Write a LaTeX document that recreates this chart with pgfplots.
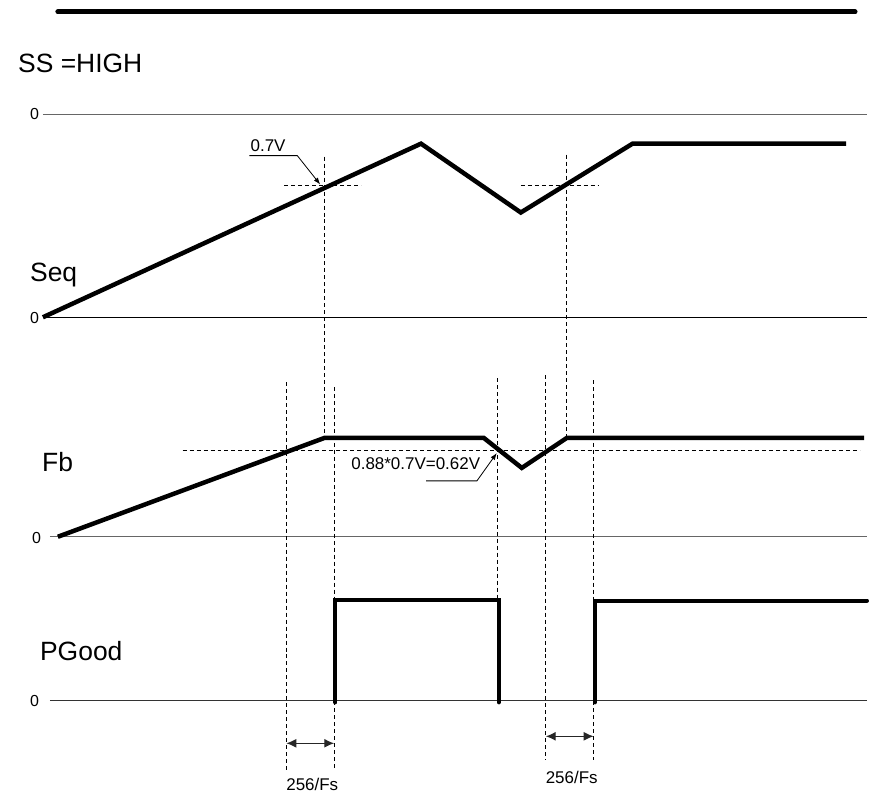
\documentclass[border=0pt]{standalone}
\usepackage{pgfplots}
\pgfplotsset{compat=1.18}
\usepackage{fontspec}
\setmainfont{Liberation Sans}
\usetikzlibrary{arrows.meta}
\tikzset{
  trace/.style={line width=4.5pt, black, line join=miter, line cap=butt},
  dsh/.style={line width=0.8pt, black, dash pattern=on 4pt off 3pt},
  base/.style={line width=1pt, black!60},
  big/.style={font=\fontsize{26.5}{30}\selectfont, anchor=base west, inner sep=0pt},
  small/.style={font=\fontsize{17}{20}\selectfont, inner sep=0pt},
  zero/.style={font=\fontsize{16}{18}\selectfont, anchor=base west, inner sep=0pt},
  dbl/.style={line width=1.2pt, black!85, {Latex[length=10pt,width=9pt]}-{Latex[length=10pt,width=9pt]}},
}
\begin{document}
\begin{tikzpicture}
\begin{axis}[scale only axis, width=869pt, height=797pt,
  xmin=0, xmax=869, ymin=0, ymax=797, y dir=reverse,
  hide axis, clip=false]
\addplot[draw=none] coordinates {(0,0) (869,797)};
% top bar
\addplot[line width=5pt, line cap=round] coordinates {(58,12) (857,12)};
\node[big] at (axis cs:18,73) {SS =HIGH};
% Seq panel
\addplot[base] coordinates {(43,115) (869,115)};
\node[zero] at (axis cs:30,120) {0};
\addplot[line width=1pt, black] coordinates {(43,318) (869,318)};
\node[zero] at (axis cs:30,324) {0};
\node[big] at (axis cs:30,282) {Seq};
\addplot[trace] coordinates {(43,318) (422,144) (522,213) (634,144) (848,144)};
% 0.7V markers
\addplot[dsh] coordinates {(285,186) (362,186)};
\addplot[dsh] coordinates {(325,157) (325,438)};
\addplot[dsh] coordinates {(522,186) (600,186)};
\addplot[dsh] coordinates {(568,155) (568,438)};
\addplot[line width=0.8pt, -{Latex[length=7pt,width=5pt]}] coordinates {(250,156) (298,156) (321,185)};
\node[small, anchor=base west] at (axis cs:251,152) {0.7V};
% Fb panel
\addplot[base] coordinates {(50,538) (869,538)};
\node[zero] at (axis cs:32,545) {0};
\node[big] at (axis cs:42,473) {Fb};
\addplot[dsh] coordinates {(183,451) (862,451)};
\addplot[trace] coordinates {(58,538) (325,439) (485,439) (523,469) (568,439) (866,439)};
\addplot[line width=0.8pt, -{Latex[length=7pt,width=5pt]}] coordinates {(427,482) (478,482) (498,454)};
\node[small, anchor=base west] at (axis cs:352,471) {0.88*0.7V=0.62V};
% vertical dashed guides
\addplot[dsh] coordinates {(287,383) (287,772)};
\addplot[dsh] coordinates {(335,388) (335,772)};
\addplot[dsh] coordinates {(499,379) (499,700)};
\addplot[dsh] coordinates {(547,376) (547,762)};
\addplot[dsh] coordinates {(595,381) (595,762)};
% PGood panel
\addplot[line width=1pt, black!80] coordinates {(50,702) (869,702)};
\node[zero] at (axis cs:30,708) {0};
\node[big] at (axis cs:40,662) {PGood};
\addplot[trace, line width=4pt, line cap=round] coordinates {(336,704) (336,601) (500,601) (500,704)};
\addplot[trace, line width=4pt, line cap=round] coordinates {(596,704) (596,602) (869,602)};
% 256/Fs arrows
\addplot[dbl] coordinates {(287,745) (335,745)};
\node[small, anchor=base] at (axis cs:313,792) {256/Fs};
\addplot[dbl] coordinates {(547,738) (595,738)};
\node[small, anchor=base] at (axis cs:573,785) {256/Fs};
\end{axis}
\end{tikzpicture}
\end{document}
